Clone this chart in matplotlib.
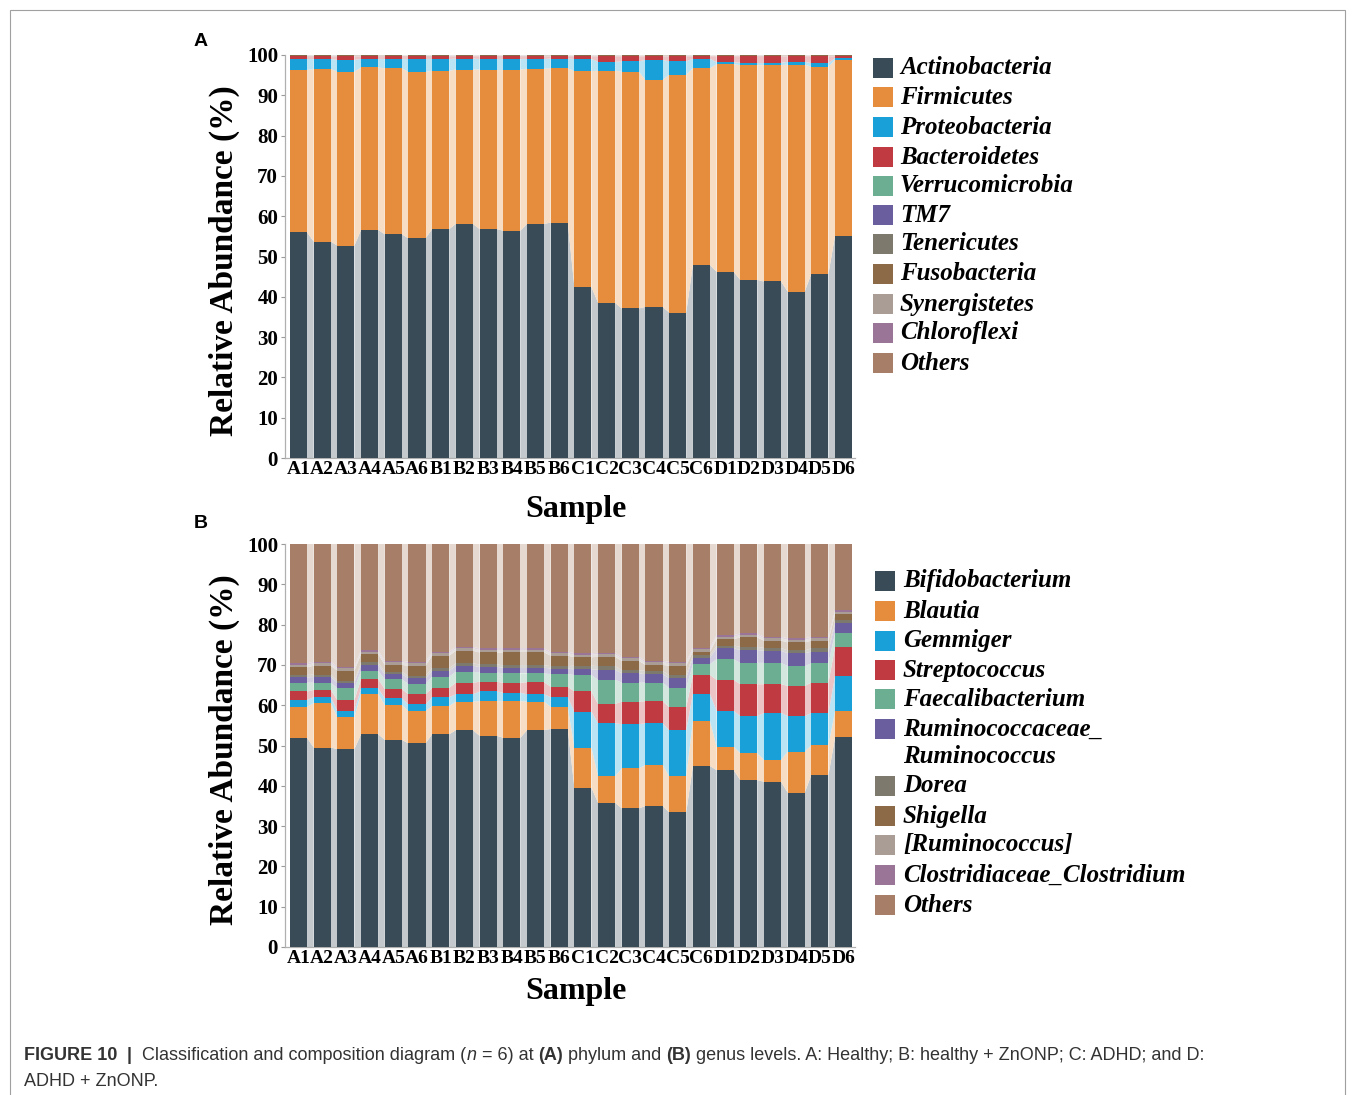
import numpy as np
import matplotlib
matplotlib.use("Agg")
import matplotlib.pyplot as plt
from matplotlib.patches import Rectangle
from matplotlib.colors import to_rgb

# ---------------- data ----------------
samples = ["A1", "A2", "A3", "A4", "A5", "A6",
           "B1", "B2", "B3", "B4", "B5", "B6",
           "C1", "C2", "C3", "C4", "C5", "C6",
           "D1", "D2", "D3", "D4", "D5", "D6"]

phylum_names = ["Actinobacteria", "Firmicutes", "Proteobacteria", "Bacteroidetes",
                "Verrucomicrobia", "TM7", "Tenericutes", "Fusobacteria",
                "Synergistetes", "Chloroflexi", "Others"]

actinobacteria = [56.0, 53.7, 52.7, 56.6, 55.5, 54.5, 56.8, 58.1, 56.8, 56.4, 58.1, 58.4,
                  42.4, 38.5, 37.1, 37.5, 36.1, 47.9, 46.2, 44.2, 43.8, 41.3, 45.7, 55.2]
firmicutes = [40.3, 42.8, 43.2, 40.3, 41.2, 41.3, 39.3, 38.3, 39.6, 40.0, 38.5, 38.3,
              53.6, 57.6, 58.8, 56.3, 59.0, 48.8, 51.5, 53.3, 53.7, 56.3, 51.4, 43.6]
proteobacteria = [2.7, 2.5, 2.9, 2.1, 2.3, 3.2, 2.9, 2.7, 2.6, 2.6, 2.4, 2.4,
                  3.0, 2.2, 2.5, 5.0, 3.3, 2.4, 0.5, 0.6, 0.6, 0.7, 0.9, 0.4]
bacteroidetes = [0.7, 0.7, 0.9, 0.7, 0.7, 0.7, 0.7, 0.6, 0.7, 0.7, 0.7, 0.6,
                 0.7, 1.4, 1.3, 0.9, 1.3, 0.6, 1.5, 1.6, 1.6, 1.4, 1.7, 0.5]
verrucomicrobia = [0.08, 0.07, 0.08, 0.09, 0.08, 0.08, 0.09, 0.08, 0.08, 0.08, 0.09, 0.08,
                   0.08, 0.09, 0.08, 0.08, 0.09, 0.08, 0.08, 0.08, 0.09, 0.08, 0.08, 0.08]
tm7 = [0.04, 0.04, 0.05, 0.04, 0.04, 0.04, 0.04, 0.04, 0.05, 0.04, 0.04, 0.04,
       0.04, 0.04, 0.04, 0.05, 0.04, 0.04, 0.04, 0.04, 0.04, 0.05, 0.04, 0.04]
tenericutes = [0.04, 0.04, 0.04, 0.04, 0.05, 0.04, 0.04, 0.04, 0.04, 0.04, 0.04, 0.05,
               0.04, 0.04, 0.04, 0.04, 0.04, 0.04, 0.05, 0.04, 0.04, 0.04, 0.04, 0.04]
fusobacteria = [0.03, 0.03, 0.03, 0.03, 0.03, 0.03, 0.03, 0.03, 0.03, 0.03, 0.03, 0.03,
                0.03, 0.03, 0.03, 0.03, 0.03, 0.03, 0.03, 0.03, 0.03, 0.03, 0.03, 0.03]
synergistetes = [0.02, 0.02, 0.02, 0.02, 0.02, 0.02, 0.02, 0.02, 0.02, 0.02, 0.02, 0.02,
                 0.02, 0.02, 0.02, 0.02, 0.02, 0.02, 0.02, 0.02, 0.02, 0.02, 0.02, 0.02]
chloroflexi = [0.02, 0.02, 0.02, 0.02, 0.02, 0.02, 0.02, 0.02, 0.02, 0.02, 0.02, 0.02,
               0.02, 0.02, 0.02, 0.02, 0.02, 0.02, 0.02, 0.02, 0.02, 0.02, 0.02, 0.02]
phylum_others = [0.07, 0.08, 0.06, 0.08, 0.07, 0.07, 0.08, 0.07, 0.06, 0.08, 0.07, 0.08,
                 0.08, 0.07, 0.07, 0.08, 0.07, 0.08, 0.08, 0.07, 0.08, 0.07, 0.08, 0.08]

genus_names = ["Bifidobacterium", "Blautia", "Gemmiger", "Streptococcus",
               "Faecalibacterium", "Ruminococcaceae_\nRuminococcus", "Dorea",
               "Shigella", "[Ruminococcus]", "Clostridiaceae_Clostridium", "Others"]

bifidobacterium = [51.9, 49.5, 49.1, 52.8, 51.4, 50.5, 52.8, 53.8, 52.4, 51.9, 53.8, 54.1,
                   39.5, 35.8, 34.4, 35.0, 33.4, 44.9, 43.9, 41.4, 41.0, 38.3, 42.7, 52.0]
blautia = [7.7, 11.0, 8.0, 10.1, 8.6, 8.1, 7.0, 7.1, 8.6, 9.1, 7.1, 5.5,
           10.0, 6.6, 9.9, 10.2, 9.0, 11.2, 5.8, 6.7, 5.4, 10.2, 7.4, 6.6]
gemmiger = [1.7, 1.5, 1.5, 1.3, 1.7, 1.6, 2.2, 1.8, 2.4, 2.1, 1.8, 2.4,
            8.9, 13.1, 11.0, 10.3, 11.4, 6.7, 8.9, 9.2, 11.7, 8.8, 8.0, 8.7]
streptococcus = [2.1, 1.8, 2.7, 2.3, 2.3, 2.5, 2.3, 2.9, 2.4, 2.5, 3.0, 2.6,
                 5.0, 4.8, 5.6, 5.5, 5.7, 4.7, 7.7, 7.9, 7.1, 7.5, 7.5, 7.2]
faecalibacterium = [2.2, 1.8, 2.9, 2.0, 2.4, 2.6, 2.8, 2.7, 2.3, 2.3, 2.2, 3.1,
                    4.1, 6.0, 4.7, 4.6, 4.8, 2.7, 5.1, 5.3, 5.3, 4.9, 4.8, 3.5]
ruminococcaceae_ruminococcus = [1.3, 1.4, 1.4, 1.5, 1.3, 1.4, 1.4, 1.5, 1.4, 1.4, 1.4, 1.4,
                                1.4, 2.5, 2.3, 2.1, 2.4, 1.6, 2.7, 3.2, 3.0, 3.2, 2.9, 2.3]
dorea = [0.6, 0.6, 0.5, 0.6, 0.6, 0.6, 0.7, 0.6, 0.6, 0.6, 0.6, 0.6,
         0.9, 0.9, 0.8, 0.8, 0.8, 0.6, 0.7, 0.8, 0.7, 0.7, 0.8, 0.8]
shigella = [1.9, 2.2, 2.5, 2.1, 1.7, 2.5, 3.1, 3.1, 3.0, 3.2, 3.2, 2.6,
            2.1, 2.3, 2.3, 1.5, 2.3, 0.9, 1.6, 2.3, 1.8, 2.0, 1.9, 1.5]
ruminococcus_bracket = [0.6, 0.6, 0.6, 0.6, 0.6, 0.6, 0.6, 0.6, 0.6, 0.6, 0.6, 0.6,
                        0.6, 0.6, 0.6, 0.6, 0.6, 0.6, 0.6, 0.6, 0.6, 0.6, 0.6, 0.6]
clostridiaceae_clostridium = [0.4, 0.4, 0.4, 0.4, 0.4, 0.4, 0.4, 0.4, 0.4, 0.4, 0.4, 0.4,
                              0.4, 0.4, 0.4, 0.4, 0.4, 0.4, 0.4, 0.4, 0.4, 0.4, 0.4, 0.4]
genus_others = [29.6, 29.2, 30.4, 26.3, 29.0, 29.2, 26.7, 25.5, 25.9, 25.9, 25.9, 26.7,
                27.1, 27.0, 28.0, 29.0, 29.2, 25.7, 22.6, 22.2, 23.0, 23.4, 23.0, 16.4]

palette = ["#384b56", "#e58d3c", "#1aa0d8", "#bf3a41", "#6cae92", "#6a5e9e",
           "#7d796c", "#8c6a48", "#a99d95", "#9a7598", "#a77f69"]

phylum_data = [actinobacteria, firmicutes, proteobacteria, bacteroidetes, verrucomicrobia,
               tm7, tenericutes, fusobacteria, synergistetes, chloroflexi, phylum_others]
genus_data = [bifidobacterium, blautia, gemmiger, streptococcus, faecalibacterium,
              ruminococcaceae_ruminococcus, dorea, shigella, ruminococcus_bracket,
              clostridiaceae_clostridium, genus_others]

# ---------------- fonts ----------------
SERIF = ["Liberation Serif", "DejaVu Serif"]
SANS = ["Liberation Sans", "DejaVu Sans"]

W, H = 1355, 1095
fig = plt.figure(figsize=(W / 100, H / 100), dpi=100)


def fx(px):
    return px / W


def fy(py):
    return 1 - py / H


def lighten(c, a=0.3):
    r, g, b = to_rgb(c)
    return (a * r + 1 - a, a * g + 1 - a, a * b + 1 - a)


BAR_W = 0.72


def stacked_panel(ax, data, colors, sample_label_y):
    x = np.arange(len(samples))
    bottom = np.zeros(len(samples))
    for vals, col in zip(data, colors):
        vals = np.asarray(vals, dtype=float)
        top = bottom + vals
        ax.bar(x, vals, BAR_W, bottom=bottom, color=col, linewidth=0, zorder=3)
        band = lighten(col)
        for i in range(len(x) - 1):
            xs = [x[i] + BAR_W / 2, x[i + 1] - BAR_W / 2, x[i + 1] - BAR_W / 2, x[i] + BAR_W / 2]
            ys = [bottom[i], bottom[i + 1], top[i + 1], top[i]]
            ax.fill(xs, ys, color=band, linewidth=0, zorder=2)
        bottom = top
    ax.set_xlim(-0.57, 23.48)
    ax.set_ylim(0, 100)
    ax.set_yticks(np.arange(0, 101, 10))
    ax.set_xticks(x)
    ax.set_xticklabels(samples, family=SERIF, fontweight="bold", fontsize=14)
    for lab in ax.get_yticklabels():
        lab.set_family(SERIF)
        lab.set_fontweight("bold")
        lab.set_fontsize(15)
    ax.tick_params(axis="y", length=3, width=0.8, color="#9a9a9a", pad=2)
    ax.tick_params(axis="x", length=0, pad=2)
    for s in ["top", "right"]:
        ax.spines[s].set_visible(False)
    for s in ["left", "bottom"]:
        ax.spines[s].set_color("#b0b0b0")
        ax.spines[s].set_linewidth(0.9)
    ax.set_ylabel("Relative Abundance (%)", family=SERIF, fontweight="bold",
                  fontsize=24)
    ax.yaxis.set_label_coords(-(285 - 224) / 570, 0.49)
    ax.yaxis.label.set_va("center")
    ax.set_xlabel("Sample", family=SERIF, fontweight="bold", fontsize=23)
    ax.xaxis.set_label_coords((576 - 285) / 570, sample_label_y)
    ax.xaxis.label.set_va("center")


ax_a = fig.add_axes([fx(285), fy(458), fx(855) - fx(285), fy(55) - fy(458)])
stacked_panel(ax_a, phylum_data, palette, -(510 - 458) / 403)
ax_b = fig.add_axes([fx(285), fy(947), fx(855) - fx(285), fy(544) - fy(947)])
stacked_panel(ax_b, genus_data, palette, -(991 - 947) / 403)

# panel letters
fig.text(fx(201), fy(42), "A", family=SANS, fontweight="bold", fontsize=14,
         ha="center", va="center")
fig.text(fx(201), fy(524), "B", family=SANS, fontweight="bold", fontsize=14,
         ha="center", va="center")


# legends
def legend_block(names, x_sq, x_txt, y_rows, colors):
    for name, yc, col in zip(names, y_rows, colors):
        sq_y = yc if "\n" not in name else yc - 14
        fig.patches.append(Rectangle((fx(x_sq), fy(sq_y + 10)), fx(20), 20 / H,
                                     transform=fig.transFigure, facecolor=col,
                                     edgecolor="none"))
        fig.text(fx(x_txt), fy(yc), name, family=SERIF, fontweight="bold",
                 style="italic", fontsize=18, ha="left", va="center",
                 linespacing=1.2)


legend_block(phylum_names, 873, 900,
             [68, 97, 127, 157, 186, 215, 244, 274, 304, 333, 363], palette)
legend_block(genus_names, 875, 903,
             [581, 611, 641, 670, 699, 743, 786, 816, 845, 875, 905], palette)

# outer frame
fig.patches.append(Rectangle((fx(10), fy(1100)), fx(1345) - fx(10), fy(10) - fy(1100),
                             transform=fig.transFigure, facecolor="none",
                             edgecolor="#a0a0a0", linewidth=0.8))

# caption
fig.canvas.draw()
renderer = fig.canvas.get_renderer()
cap_color = "#333333"
pieces = [("FIGURE 10", "bold", "normal"), ("  |  ", "bold", "normal"),
          ("Classification and composition diagram (", "normal", "normal"),
          ("n", "normal", "italic"), (" = 6) at ", "normal", "normal"),
          ("(A)", "bold", "normal"), (" phylum and ", "normal", "normal"),
          ("(B)", "bold", "normal"),
          (" genus levels. A: Healthy; B: healthy + ZnONP; C: ADHD; and D:", "normal", "normal")]
xpos = 24
for txt, wt, st in pieces:
    t = fig.text(fx(xpos), fy(1055), txt, family=SANS, fontweight=wt, style=st,
                 fontsize=13, color=cap_color, ha="left", va="center")
    bb = t.get_window_extent(renderer)
    xpos = bb.x1
fig.text(fx(24), fy(1081), "ADHD + ZnONP.", family=SANS, fontsize=13,
         color=cap_color, ha="left", va="center")

fig.savefig("out.png", dpi=100)
